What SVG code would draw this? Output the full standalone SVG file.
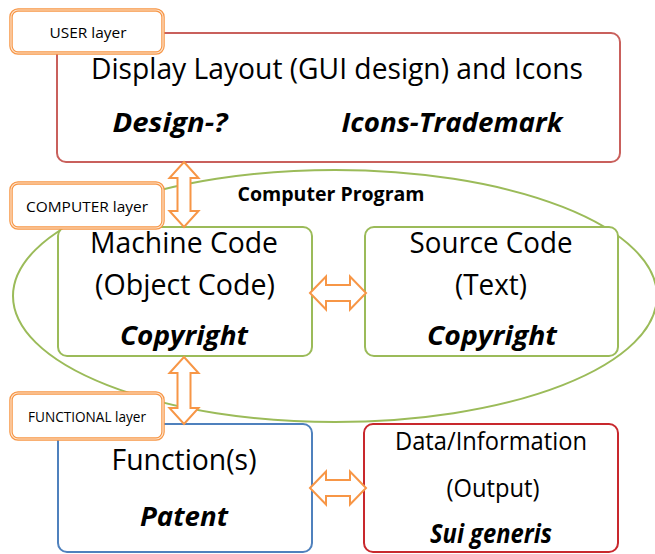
<svg xmlns="http://www.w3.org/2000/svg" width="655" height="554" viewBox="0 0 655 554">
  <style>
    .box { fill: #ffffff; stroke-width: 2; }
    .user { stroke: #c9605c; }
    .code { stroke: #9bbb59; }
    .func { stroke: #4f81bd; }
    .data { stroke: #c8282d; }
    .arrow { fill: #ffffff; stroke: #f79646; stroke-width: 2; stroke-linejoin: miter; }
    .tag-out { fill: #ffffff; stroke: #f79646; stroke-width: 3.5; }
    .tag-in { fill: none; stroke: #fde3cc; stroke-width: 1.2; }
    text { font-family: "Open Sans", "Noto Sans", "Liberation Sans", sans-serif; fill: #000000; text-anchor: middle; }
    .big { font-size: 29px; }
    .mid { font-size: 25px; }
    .tag { font-size: 15px; }
    .law { font-size: 27px; font-weight: bold; font-style: italic; }
    .title { font-size: 20px; font-weight: bold; }
  </style>

  <!-- program boundary -->
  <g id="computer-program">
    <ellipse cx="335" cy="296" rx="322" ry="126" fill="none" stroke="#9bbb59" stroke-width="2"/>
    <text class="title" x="331" y="201" textLength="187" lengthAdjust="spacingAndGlyphs">Computer Program</text>
  </g>

  <g id="display-layout">
    <rect class="box user" x="57" y="33" width="563" height="129" rx="9"/>
    <text class="big" x="337" y="79" textLength="492" lengthAdjust="spacingAndGlyphs">Display Layout (GUI design) and Icons</text>
    <text class="law" x="170" y="132" textLength="115" lengthAdjust="spacingAndGlyphs">Design-?</text>
    <text class="law" x="452" y="132" textLength="221" lengthAdjust="spacingAndGlyphs">Icons-Trademark</text>
  </g>

  <g id="machine-code">
    <rect class="box code" x="58" y="227" width="254" height="129" rx="9"/>
    <text class="big" x="184" y="253" textLength="188" lengthAdjust="spacingAndGlyphs">Machine Code</text>
    <text class="big" x="185" y="295" textLength="180" lengthAdjust="spacingAndGlyphs">(Object Code)</text>
    <text class="law" x="184" y="345" textLength="128" lengthAdjust="spacingAndGlyphs">Copyright</text>
  </g>

  <g id="source-code">
    <rect class="box code" x="365" y="227" width="253" height="129" rx="9"/>
    <text class="big" x="491" y="253" textLength="163" lengthAdjust="spacingAndGlyphs">Source Code</text>
    <text class="big" x="491" y="295" textLength="72" lengthAdjust="spacingAndGlyphs">(Text)</text>
    <text class="law" x="492" y="345" textLength="130" lengthAdjust="spacingAndGlyphs">Copyright</text>
  </g>

  <g id="functions">
    <rect class="box func" x="58" y="424" width="254" height="128" rx="9"/>
    <text class="big" x="184" y="470" textLength="145" lengthAdjust="spacingAndGlyphs">Function(s)</text>
    <text class="law" x="184" y="526" textLength="88" lengthAdjust="spacingAndGlyphs">Patent</text>
  </g>

  <g id="data-output">
    <rect class="box data" x="364" y="424" width="254" height="128" rx="9"/>
    <text class="mid" x="491" y="450" textLength="192" lengthAdjust="spacingAndGlyphs">Data/Information</text>
    <text class="mid" x="493" y="497" textLength="93" lengthAdjust="spacingAndGlyphs">(Output)</text>
    <text class="law" x="491" y="543" font-size="24" textLength="122" lengthAdjust="spacingAndGlyphs">Sui generis</text>
  </g>

  <!-- two-way connectors -->
  <g id="connectors">
    <path class="arrow" d="M184,162 L198.5,178 L190.5,178 L190.5,211 L198.5,211 L184,227 L169.5,211 L177.5,211 L177.5,178 L169.5,178 Z"/>
    <path class="arrow" d="M184,357 L198.5,373 L190.5,373 L190.5,408 L198.5,408 L184,424 L169.5,408 L177.5,408 L177.5,373 L169.5,373 Z"/>
    <path class="arrow" d="M310,293 L326,276.5 L326,285 L350,285 L350,276.5 L366,293 L350,309.5 L350,301 L326,301 L326,309.5 Z"/>
    <path class="arrow" d="M310,488 L326,471.5 L326,480 L350,480 L350,471.5 L366,488 L350,504.5 L350,496 L326,496 L326,504.5 Z"/>
  </g>

  <!-- layer tags -->
  <g id="user-layer">
    <rect class="tag-out" x="11" y="10" width="152" height="43" rx="7"/>
    <rect class="tag-in" x="11" y="10" width="152" height="43" rx="7"/>
    <text class="tag" x="88" y="38" textLength="77" lengthAdjust="spacingAndGlyphs">USER layer</text>
  </g>
  <g id="computer-layer">
    <rect class="tag-out" x="11" y="183" width="152" height="45" rx="7"/>
    <rect class="tag-in" x="11" y="183" width="152" height="45" rx="7"/>
    <text class="tag" x="87" y="212" textLength="122" lengthAdjust="spacingAndGlyphs">COMPUTER layer</text>
  </g>
  <g id="functional-layer">
    <rect class="tag-out" x="11" y="393" width="152" height="46" rx="7"/>
    <rect class="tag-in" x="11" y="393" width="152" height="46" rx="7"/>
    <text class="tag" x="87" y="422" textLength="118" lengthAdjust="spacingAndGlyphs">FUNCTIONAL layer</text>
  </g>
</svg>
